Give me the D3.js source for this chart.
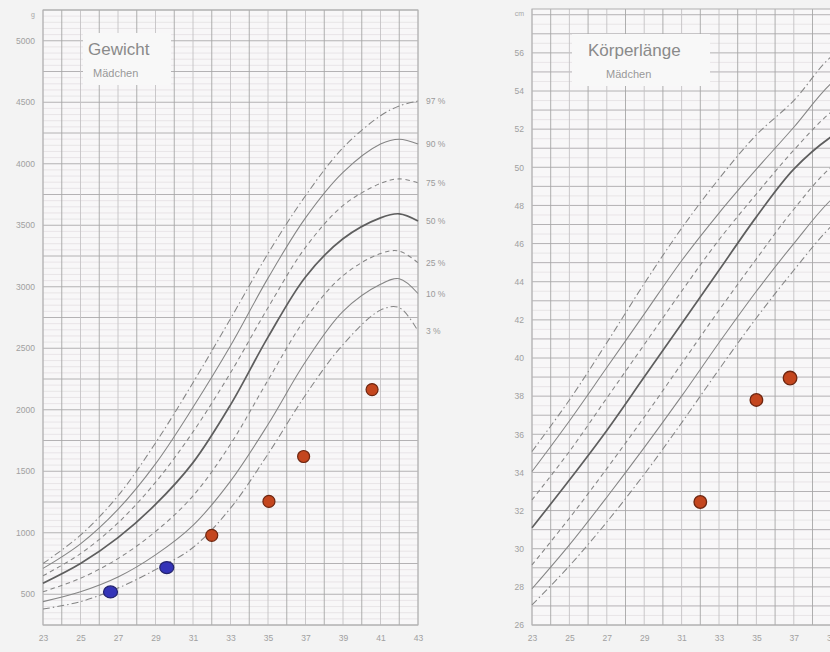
<!DOCTYPE html>
<html>
<head>
<meta charset="utf-8">
<script src="https://cdn.jsdelivr.net/npm/d3@7"></script>
<style>
  body { margin: 0; background: #f3f3f3; }
  svg { display: block; }
</style>
</head>
<body>
<div id="app"></div>
<script>
'use strict'

// Percentile curves, Gewicht (g) by gestational week
const percentiles = ['97', '90', '75', '50', '25', '10', '3']
const weightWeeks = [23, 25, 27, 29, 31, 33, 35, 37, 39, 41, 42, 43]
const weight97 = [750, 980, 1300, 1730, 2220, 2740, 3270, 3740, 4130, 4390, 4470, 4510]
const weight90 = [710, 910, 1190, 1560, 2020, 2520, 3070, 3560, 3930, 4160, 4200, 4160]
const weight75 = [650, 830, 1080, 1410, 1820, 2300, 2830, 3320, 3660, 3840, 3877, 3845]
const weight50 = [590, 750, 960, 1230, 1570, 2040, 2590, 3080, 3390, 3560, 3593, 3535]
const weight25 = [520, 630, 790, 1010, 1300, 1720, 2240, 2740, 3090, 3270, 3290, 3195]
const weight10 = [440, 520, 640, 820, 1060, 1420, 1880, 2390, 2800, 3020, 3065, 2945]
const weight3  = [380, 440, 550, 700, 880, 1200, 1640, 2120, 2530, 2810, 2830, 2640]

// Percentile curves, Körperlänge (cm)
const lengthWeeks = [23, 25, 27, 29, 31, 33, 35, 37, 39, 41, 43]
const length97 = [35.1, 37.8, 40.8, 43.9, 46.8, 49.4, 51.7, 53.5, 55.8, 57.0, 57.6]
const length90 = [34.05, 36.7, 39.5, 42.3, 45.1, 47.6, 49.9, 52.1, 54.4, 55.8, 56.3]
const length75 = [32.56, 35.1, 37.9, 40.7, 43.5, 46.2, 48.6, 50.9, 52.9, 54.2, 54.8]
const length50 = [31.1, 33.6, 36.2, 39.0, 41.8, 44.6, 47.4, 49.9, 51.6, 52.7, 53.1]
const length25 = [29.15, 31.6, 34.2, 36.9, 39.7, 42.5, 45.2, 47.8, 50.0, 51.2, 51.7]
const length10 = [27.9, 30.2, 32.7, 35.3, 38.0, 40.8, 43.5, 46.0, 48.3, 49.8, 50.5]
const length3  = [27.05, 29.1, 31.4, 33.9, 36.6, 39.4, 42.1, 44.6, 46.9, 48.5, 49.3]

// Measurements
const dotWeeks   = [26.6, 29.6, 32.0, 35.05, 36.9, 40.55]
const dotWeights = [519, 717, 979, 1255, 1620, 2164]
const dotGroups  = ['b', 'b', 'r', 'r', 'r', 'r']
const lenDotWeeks  = [32.0, 35.0, 36.8]
const lenDotValues = [32.45, 37.8, 38.95]

// Tick labels
const weekTicks    = [23, 25, 27, 29, 31, 33, 35, 37, 39, 41, 43]
const lenWeekTicks = [23, 25, 27, 29, 31, 33, 35, 37, 39]
const weightTicks  = [500, 1000, 1500, 2000, 2500, 3000, 3500, 4000, 4500, 5000]
const lengthTicks  = [26, 28, 30, 32, 34, 36, 38, 40, 42, 44, 46, 48, 50, 52, 54, 56]

const W = 830, H = 652
const svg = d3.select('#app').append('svg')
  .attr('width', W).attr('height', H)
  .style('font-family', '"Liberation Sans", Arial, sans-serif')

svg.append('rect').attr('width', W).attr('height', H).attr('fill', '#f3f3f3')

const dash = { '97': '7,3,1.5,3', '90': null, '75': '4.5,3.5', '50': null, '25': '4.5,3.5', '10': null, '3': '7,3,1.5,3' }

const drawPanel = cfg => {
  const { x, y, weeks, series, minor, major, ticks, xticks, unit, title, box, pctLabels } = cfg
  const g = svg.append('g')
  const [x0, x1] = x.range()
  const [y0, y1] = y.range()

  g.append('rect')
    .attr('x', x0).attr('y', y1).attr('width', x1 - x0).attr('height', y0 - y1)
    .attr('fill', '#f8f7f8')

  // horizontal grid
  const yd = y.domain()
  const isMajor = d => Math.abs(d / major - Math.round(d / major)) < 1e-6
  const hVals = d3.range(Math.ceil(yd[0] / minor) * minor, yd[1] + 1e-6, minor)
  g.selectAll('.h').data(hVals).enter().append('line')
    .attr('x1', x0).attr('x2', x1)
    .attr('y1', d => y(d)).attr('y2', d => y(d))
    .attr('stroke', d => isMajor(d) ? '#aba9ab' : '#ddd8dc')
    .attr('stroke-width', d => isMajor(d) ? 0.9 : 0.6)

  // vertical grid, one line per week
  g.selectAll('.v').data(d3.range(23, 44)).enter().append('line')
    .attr('x1', d => x(d)).attr('x2', d => x(d))
    .attr('y1', y1).attr('y2', y0)
    .attr('stroke', d => d % 2 === 0 ? '#a6a6a6' : '#c4c2c4')
    .attr('stroke-width', 0.9)

  g.append('rect')
    .attr('x', x0).attr('y', y1).attr('width', x1 - x0).attr('height', y0 - y1)
    .attr('fill', 'none').attr('stroke', '#b0b0b0').attr('stroke-width', 1)

  // title box
  g.append('rect').attr('x', box[0]).attr('y', box[1]).attr('width', box[2]).attr('height', box[3])
    .attr('fill', '#f8f8f8')
  g.append('text').attr('x', box[0] + title.dx).attr('y', box[1] + 22)
    .attr('font-size', 17).attr('fill', '#8a8a8a').text(title.main)
  g.append('text').attr('x', box[0] + title.dx2).attr('y', box[1] + 44)
    .attr('font-size', 11).attr('fill', '#999').text('Mädchen')

  // percentile curves
  const line = d3.line().x((d, i) => x(weeks[i])).y(d => y(d)).curve(d3.curveCatmullRom.alpha(0.5))
  percentiles.forEach((p, k) => {
    g.append('path').datum(series[k])
      .attr('d', line)
      .attr('fill', 'none')
      .attr('stroke', p === '50' ? '#5e5e5e' : '#858585')
      .attr('stroke-width', p === '50' ? 1.7 : 1.05)
      .attr('stroke-dasharray', dash[p])
  })

  if (pctLabels) {
    g.selectAll('.pct').data(percentiles).enter().append('text')
      .attr('x', x1 + 8)
      .attr('y', (d, k) => y(series[k][series[k].length - 1]) + 3)
      .attr('font-size', 8.5).attr('fill', '#9a9a9a')
      .text(d => `${d} %`)
  }

  // axes (labels only)
  const yAxis = g.append('g').attr('transform', `translate(${x0},0)`)
    .call(d3.axisLeft(y).tickValues(ticks).tickFormat(d3.format('d')).tickSize(0).tickPadding(8))
  const xAxis = g.append('g').attr('transform', `translate(0,${y0})`)
    .call(d3.axisBottom(x).tickValues(xticks).tickSize(0).tickPadding(10))
  ;[yAxis, xAxis].forEach(a => {
    a.select('.domain').remove()
    a.selectAll('text').attr('fill', '#a0a0a0').attr('font-size', 8.5)
      .style('font-family', '"Liberation Sans", Arial, sans-serif')
  })
  g.append('text').attr('x', x0 - 8).attr('y', y1 + 7).attr('text-anchor', 'end')
    .attr('font-size', 7).attr('fill', '#a8a8a8').text(unit)

  return g
}

const xW = d3.scaleLinear().domain([23, 43]).range([43, 418])
const yW = d3.scaleLinear().domain([250, 5250]).range([625, 10])
const gW = drawPanel({
  x: xW, y: yW, weeks: weightWeeks,
  series: [weight97, weight90, weight75, weight50, weight25, weight10, weight3],
  minor: 50, major: 250, ticks: weightTicks, xticks: weekTicks, unit: 'g',
  title: { main: 'Gewicht', dx: 5, dx2: 10 }, box: [83, 33, 88, 52], pctLabels: true
})

const xL = d3.scaleLinear().domain([23, 43]).range([532, 906])
const yL = d3.scaleLinear().domain([26, 58.3]).range([625, 9])
const gL = drawPanel({
  x: xL, y: yL, weeks: lengthWeeks,
  series: [length97, length90, length75, length50, length25, length10, length3],
  minor: 0.5, major: 1, ticks: lengthTicks, xticks: lenWeekTicks, unit: 'cm',
  title: { main: 'Körperlänge', dx: 16, dx2: 34 }, box: [572, 34, 138, 52], pctLabels: false
})

// measurement dots
const dotColor = { b: '#3434b8', r: '#c4461e' }
const dotStroke = { b: '#23236e', r: '#6e2610' }
gW.selectAll('.dot').data(dotWeeks).enter().append('ellipse')
  .attr('cx', d => xW(d))
  .attr('cy', (d, i) => yW(dotWeights[i]))
  .attr('rx', (d, i) => dotGroups[i] === 'b' ? 7 : 6)
  .attr('ry', 6)
  .attr('fill', (d, i) => dotColor[dotGroups[i]])
  .attr('stroke', (d, i) => dotStroke[dotGroups[i]])
  .attr('stroke-width', 1.2)

gL.selectAll('.dot').data(lenDotWeeks).enter().append('circle')
  .attr('cx', d => xL(d))
  .attr('cy', (d, i) => yL(lenDotValues[i]))
  .attr('r', (d, i) => i === 2 ? 6.8 : 6.3)
  .attr('fill', dotColor.r)
  .attr('stroke', dotStroke.r)
  .attr('stroke-width', 1.3)
</script>
</body>
</html>
